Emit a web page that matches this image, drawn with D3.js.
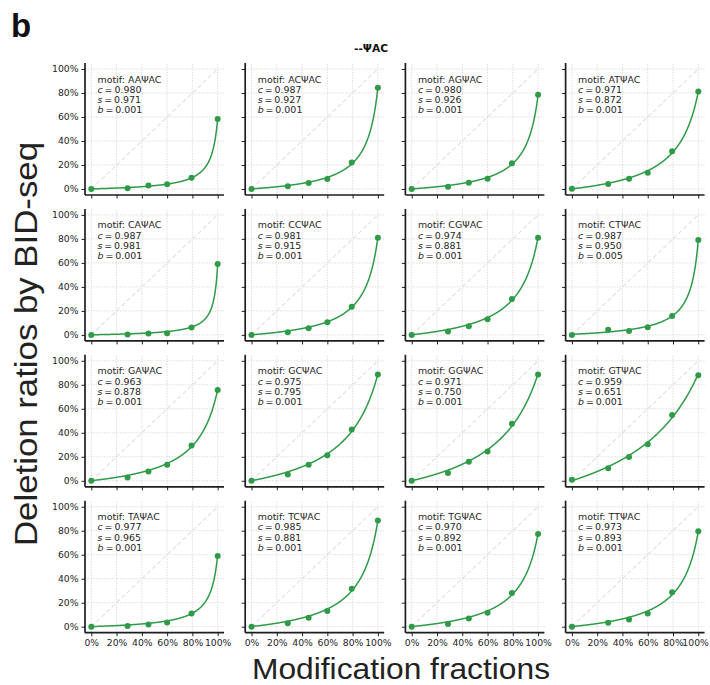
<!DOCTYPE html>
<html>
<head>
<meta charset="utf-8">
<script src="https://cdn.jsdelivr.net/npm/d3@7"></script>
<style>
  html, body { margin: 0; padding: 0; background: #fff; }
  svg { display: block; }
</style>
</head>
<body>
<svg id="chart" width="710" height="685"></svg>
<script>
// ---------------- data ----------------
const motifs = ["AAΨAC", "ACΨAC", "AGΨAC", "ATΨAC",
                "CAΨAC", "CCΨAC", "CGΨAC", "CTΨAC",
                "GAΨAC", "GCΨAC", "GGΨAC", "GTΨAC",
                "TAΨAC", "TCΨAC", "TGΨAC", "TTΨAC"];
const cValues = [0.980, 0.987, 0.980, 0.971,
                 0.987, 0.981, 0.974, 0.987,
                 0.963, 0.975, 0.971, 0.959,
                 0.977, 0.985, 0.970, 0.973];
const sValues = [0.971, 0.927, 0.926, 0.872,
                 0.981, 0.915, 0.881, 0.950,
                 0.878, 0.795, 0.750, 0.651,
                 0.965, 0.881, 0.892, 0.893];
const bValues = [0.001, 0.001, 0.001, 0.001,
                 0.001, 0.001, 0.001, 0.005,
                 0.001, 0.001, 0.001, 0.001,
                 0.001, 0.001, 0.001, 0.001];
// spike-in modification fractions (x of the dots)
const modFractions = [0, 0.287, 0.452, 0.600, 0.793, 1.000];
// measured deletion ratios (y of the dots), one row per motif
const deletionRatios = [
  [0.000, 0.006, 0.030, 0.039, 0.094, 0.583],
  [0.000, 0.022, 0.050, 0.083, 0.221, 0.843],
  [0.000, 0.019, 0.052, 0.086, 0.215, 0.785],
  [0.003, 0.041, 0.086, 0.135, 0.315, 0.812],
  [0.000, 0.003, 0.011, 0.014, 0.061, 0.590],
  [0.000, 0.022, 0.055, 0.105, 0.235, 0.810],
  [0.000, 0.028, 0.072, 0.130, 0.300, 0.810],
  [0.000, 0.042, 0.033, 0.064, 0.158, 0.790],
  [0.000, 0.028, 0.078, 0.133, 0.294, 0.756],
  [0.000, 0.053, 0.133, 0.213, 0.427, 0.886],
  [0.000, 0.066, 0.158, 0.244, 0.476, 0.886],
  [0.008, 0.105, 0.199, 0.305, 0.548, 0.880],
  [0.000, 0.006, 0.019, 0.036, 0.111, 0.590],
  [0.000, 0.028, 0.075, 0.130, 0.316, 0.884],
  [0.000, 0.022, 0.069, 0.116, 0.280, 0.773],
  [0.000, 0.033, 0.061, 0.111, 0.288, 0.795]
];
const tickValues = [0, 0.2, 0.4, 0.6, 0.8, 1.0];
const tickLabels = ["0%", "20%", "40%", "60%", "80%", "100%"];
const titleText = "--ΨAC";
const xLabelText = "Modification fractions";
const yLabelText = "Deletion ratios by BID-seq";
const panelLetter = "b";

// fitted calibration model using the panel's c, s, b parameters
function fitModel(x, c, s, b) {
  return (x * c * (1 - s) + b * (1 - x * c)) / (1 - x * c * s);
}

// ---------------- layout ----------------
const svg = d3.select("#chart");
const GREEN = "#2f9a48";
const INK = "#1e1e1e";
const nCols = 4;
const panelW = 139, panelH = 132;
const colLeft = i => 85 + i * 160.2;
const rowBottom = j => 195 + j * 145.9;
const domain = [-0.05, 1.05];
const smallFont = "'DejaVu Sans', 'Noto Sans', sans-serif";
const bigFont = "'Liberation Sans', Arial, sans-serif";

// font size that makes a sample string reach a target width
function fitSize(sample, family, weight, target) {
  const t = svg.append("text").style("font-family", family)
    .style("font-size", "10px").style("font-weight", weight).text(sample);
  const w = t.node().getComputedTextLength();
  t.remove();
  return 10 * target / w;
}
const tickSize = fitSize("100%", smallFont, "normal", 26.5);
const annSize = fitSize("motif: AAΨAC", smallFont, "normal", 64);
const titleSize = fitSize(titleText, smallFont, "bold", 34);

motifs.forEach((motif, k) => {
  const col = k % nCols, row = Math.floor(k / nCols);
  const x0 = colLeft(col), y0 = rowBottom(row);
  const x = d3.scaleLinear().domain(domain).range([x0, x0 + panelW]);
  const y = d3.scaleLinear().domain(domain).range([y0, y0 - panelH]);
  const g = svg.append("g");

  // grid
  g.append("g").selectAll("line").data(tickValues).join("line")
    .attr("x1", d => x(d)).attr("x2", d => x(d))
    .attr("y1", y0).attr("y2", y0 - panelH)
    .attr("stroke", "#d6d6d6").attr("stroke-width", 0.8)
    .attr("stroke-dasharray", "1.5,1.2");
  g.append("g").selectAll("line").data(tickValues).join("line")
    .attr("y1", d => y(d)).attr("y2", d => y(d))
    .attr("x1", x0).attr("x2", x0 + panelW)
    .attr("stroke", "#d6d6d6").attr("stroke-width", 0.8)
    .attr("stroke-dasharray", "1.5,1.2");

  // diagonal y = x
  g.append("line")
    .attr("x1", x(0)).attr("y1", y(0)).attr("x2", x(1)).attr("y2", y(1))
    .attr("stroke", "#e0e0e0").attr("stroke-width", 1.1)
    .attr("stroke-dasharray", "4.5,2.5");

  // fitted curve
  const c = cValues[k], s = sValues[k], b = bValues[k];
  const xs = d3.range(0, 1.0001, 0.002);
  g.append("path")
    .datum(xs)
    .attr("fill", "none").attr("stroke", GREEN).attr("stroke-width", 1.5)
    .attr("d", d3.line().x(d => x(d)).y(d => y(fitModel(d, c, s, b))));

  // dots
  g.append("g").selectAll("circle").data(modFractions).join("circle")
    .attr("cx", d => x(d))
    .attr("cy", (d, i) => y(deletionRatios[k][i]))
    .attr("r", 3).attr("fill", GREEN);

  // axes
  const xAxis = d3.axisBottom(x).tickValues(tickValues).tickSize(3.5).tickPadding(3)
    .tickFormat((d, i) => row === 3 ? tickLabels[i] : "");
  const yAxis = d3.axisLeft(y).tickValues(tickValues).tickSize(3.5).tickPadding(3)
    .tickFormat((d, i) => col === 0 ? tickLabels[i] : "");
  const gx = g.append("g").attr("transform", `translate(0,${y0})`).call(xAxis);
  const gy = g.append("g").attr("transform", `translate(${x0},0)`).call(yAxis);
  [gx, gy].forEach(ax => {
    ax.select(".domain").attr("stroke", INK).attr("stroke-width", 1.7);
    ax.selectAll(".tick line").attr("stroke", INK).attr("stroke-width", 1);
    ax.selectAll(".tick text").attr("fill", INK)
      .style("font-family", smallFont).style("font-size", tickSize + "px");
  });
  gx.select(".domain").attr("d", `M${x0},0H${x0 + panelW}`);
  gy.select(".domain").attr("d", `M0,${y0}V${y0 - panelH}`);
  // keep the right-most tick label inside the picture
  gx.selectAll(".tick text").each(function () {
    const bb = this.getBBox();
    const m = this.parentNode.transform.baseVal.consolidate().matrix;
    const right = m.e + bb.x + bb.width;
    if (right > 709) d3.select(this).attr("dx", (709 - right) + "px");
  });

  // annotation
  const tx = x0 + 12.5, ty = y0 - panelH + 19.5, lh = 10.2;
  const ann = g.append("g").style("font-family", smallFont)
    .style("font-size", annSize + "px").attr("fill", INK);
  ann.append("text").attr("x", tx).attr("y", ty).text("motif: " + motif);
  [["c", c], ["s", s], ["b", b]].forEach(([sym, v], i) => {
    const t = ann.append("text").attr("x", tx).attr("y", ty + lh * (i + 1));
    t.append("tspan").attr("font-style", "italic").text(sym);
    t.append("tspan").text("\u2009=\u2009" + v.toFixed(3));
  });
});

// title
svg.append("text").attr("x", 371).attr("y", 52)
  .attr("text-anchor", "middle")
  .style("font-family", smallFont).style("font-size", titleSize + "px")
  .style("font-weight", "bold").attr("fill", "#111").text(titleText);

// panel letter
svg.append("text").attr("x", 11).attr("y", 37)
  .style("font-family", bigFont)
  .style("font-size", "33px").style("font-weight", "bold")
  .attr("fill", "#111").text(panelLetter);

// axis labels
svg.append("text").attr("x", 401).attr("y", 679)
  .attr("text-anchor", "middle")
  .style("font-family", bigFont)
  .attr("textLength", 298).attr("lengthAdjust", "spacingAndGlyphs")
  .style("font-size", "30px").attr("fill", "#222").text(xLabelText);
svg.append("text")
  .attr("transform", "translate(37,344) rotate(-90)")
  .attr("text-anchor", "middle")
  .attr("textLength", 404).attr("lengthAdjust", "spacingAndGlyphs")
  .style("font-family", bigFont)
  .style("font-size", "31px").attr("fill", "#222").text(yLabelText);
</script>
</body>
</html>
